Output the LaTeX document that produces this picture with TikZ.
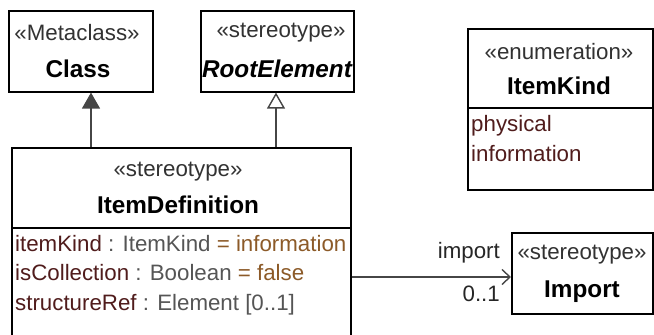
\documentclass[tikz,border=0pt]{standalone}
\usepackage{fontspec}
\setmainfont{Liberation Sans}
\usetikzlibrary{arrows.meta}
\definecolor{attrname}{RGB}{80,28,28}
\definecolor{attrtype}{RGB}{85,85,85}
\definecolor{attrval}{RGB}{140,90,40}
\definecolor{stereo}{RGB}{50,50,50}
\definecolor{edge}{RGB}{70,70,70}
\newcommand{\aname}[1]{{\color{attrname}#1}}
\newcommand{\atype}[1]{{\color{attrtype}#1}}
\newcommand{\aval}[1]{{\color{attrval}#1}}
\begin{document}
\begin{tikzpicture}[x=1pt,y=-1pt,
  font=\fontsize{22.3}{26}\selectfont,
  umlbox/.style={draw=black, line width=1.6pt, inner sep=0pt, anchor=north west, fill=white},
  stereotxt/.style={text=stereo, inner sep=0pt, font=\fontsize{22.3}{24}\selectfont},
  nametxt/.style={inner sep=0pt, font=\fontsize{24.3}{26}\selectfont\bfseries},
  attr/.style={inner sep=0pt, anchor=west, text height=0.72em, text depth=0pt},
  lbl/.style={inner sep=0pt, anchor=east, text=black!85, text height=0.72em, text depth=0pt},
  conn/.style={draw=edge, line width=1.4pt},
  sepline/.style={draw=black, line width=1.6pt}]
\useasboundingbox (0,0) rectangle (654,335);
\clip (0,0) rectangle (654,335);

% class boxes
\node[umlbox, minimum width=144, minimum height=81] (cls) at (8,10) {};
\node[umlbox, minimum width=153, minimum height=81] (root) at (200,10) {};
\node[umlbox, minimum width=339, minimum height=220] (itemdef) at (11,147) {};
\node[umlbox, minimum width=185, minimum height=161] (kind) at (467,28) {};
\node[umlbox, minimum width=141, minimum height=81] (imp) at (511,232) {};

% compartment separators
\coordinate (idsep) at (0,228);
\coordinate (kdsep) at (0,108);
\draw[sepline] (itemdef.west |- idsep) -- (itemdef.east |- idsep);
\draw[sepline] (kind.west |- kdsep) -- (kind.east |- kdsep);

% headers
\node[stereotxt] (clsst) at (77,33) {«Metaclass»};
\node[nametxt] (clsnm) at (78,69) {Class};
\node[stereotxt] (rootst) at (281,33) {«stereotype»};
\node[nametxt, font=\fontsize{24.3}{26}\selectfont\bfseries\itshape] (rootnm) at (277,69) {RootElement};
\node[stereotxt] (idst) at (178,172) {«stereotype»};
\node[nametxt] (idnm) at (178,205) {ItemDefinition};
\node[stereotxt] (kdst) at (559,52) {«enumeration»};
\node[nametxt] (kdnm) at (559,86) {ItemKind};
\node[stereotxt] (impst) at (582,255) {«stereotype»};
\node[nametxt] (impnm) at (582,292) {Import};

% attributes
\node[attr] (a1) at (15,248) {\aname{itemKind} \atype{: ItemKind} \aval{= information}};
\node[attr] (a2) at (15,277) {\aname{isCollection} \atype{: Boolean} \aval{= false}};
\node[attr] (a3) at (15,307) {\aname{structureRef} \atype{: Element [0..1]}};

% enumeration literals
\node[attr, text=attrname] (l1) at (471,128) {physical};
\node[attr, text=attrname] (l2) at (471,158) {information};

% connectors
\coordinate (gx1) at (91,0);
\coordinate (gx2) at (276,0);
\coordinate (ay) at (0,277);
\draw[conn, -{Triangle[length=16pt 0 0,width=18pt 0 0,fill=edge]}] (itemdef.north -| gx1) -- (cls.south -| gx1);
\draw[conn, -{Triangle[open,length=16pt 0 0,width=18pt 0 0,fill=white]}] (itemdef.north -| gx2) -- (root.south -| gx2);
\draw[conn, -{Straight Barb[length=8pt 0 0,width=15pt 0 0]}] (itemdef.east |- ay) -- (imp.west |- ay);

% association end labels
\node[lbl] (rolename) at (500,255) {import};
\node[lbl] (mult) at (500,298) {0..1};
\end{tikzpicture}
\end{document}
